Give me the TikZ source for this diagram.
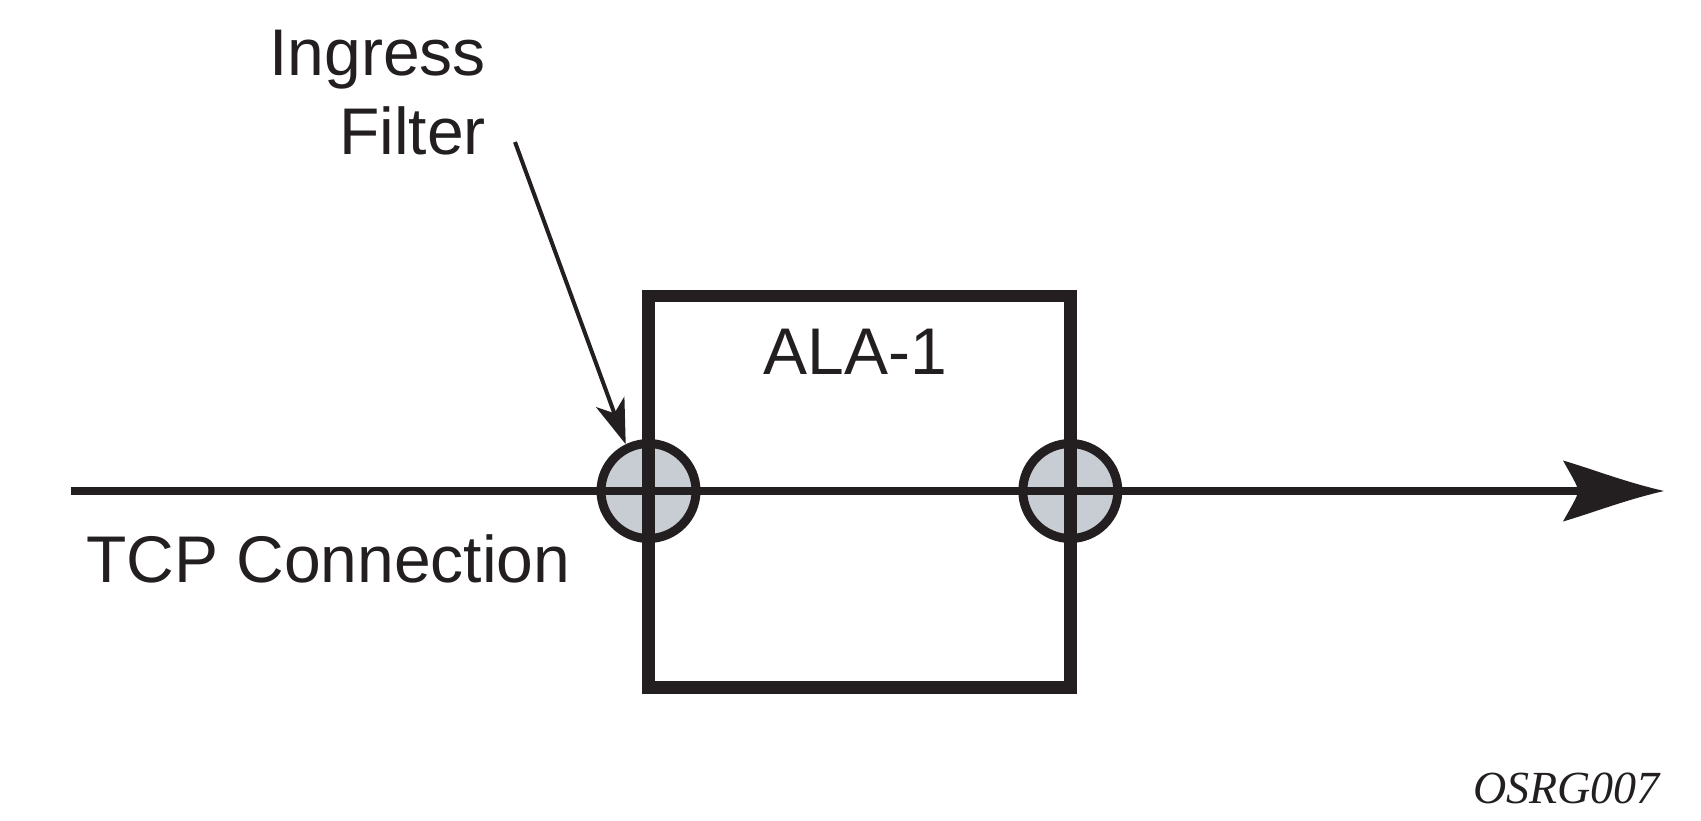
\documentclass[tikz,border=0pt]{standalone}
\usepackage{fontspec}
\setmainfont{Liberation Sans}
\newfontfamily\timesfont{Liberation Serif}
\usetikzlibrary{arrows.meta}
\definecolor{ink}{HTML}{231F20}
\definecolor{filtfill}{HTML}{C8CCD3}
\begin{document}
\begin{tikzpicture}[x=1pt,y=-1pt,
 lbl/.style={inner sep=0pt, text=ink, font=\fontsize{66}{79}\selectfont},
 codelbl/.style={inner sep=0pt, text=ink, font=\timesfont\itshape\fontsize{46}{50}\selectfont},
 alabox/.style={draw=ink, line width=12.5pt, minimum width=421.8pt, minimum height=391.3pt, inner sep=0pt},
 filt/.style={circle, draw=ink, fill=filtfill, line width=9pt, minimum size=95pt, inner sep=0pt},
 tcpline/.style={draw=ink, line width=8pt},
 ingline/.style={draw=ink, line width=4pt, -{Stealth[length=45pt,width=30pt,inset=12pt]}},
]
\useasboundingbox (0,0) rectangle (1701,821);
\node[filt] (fin) at (648.5,491) {};
\node[filt] (fout) at (1070.3,491) {};
\node[alabox] (ala) at (859.4,491.65) {};
\node[lbl, anchor=base] (alalbl) at (855,374) {ALA-1};
\coordinate (tcpstart) at (70.5,491);
\coordinate (tcptip) at (1664,491);
\draw[tcpline] (tcpstart) -- ([xshift=-74pt]tcptip);
\fill[ink, shift={(tcptip)}] (0,0) .. controls (-39,-9) and (-69,-21) .. (-101,-30.5)
  .. controls (-93,-16) and (-86,-5) .. (-86,0)
  .. controls (-86,5) and (-93,16) .. (-101,30.5)
  .. controls (-69,21) and (-39,9) .. (0,0) -- cycle;
\coordinate (ingstart) at (515,142);
\draw[ingline] (ingstart) -- (fin.116);
\node[lbl, anchor=base east, align=right] (ingr) at (486,155) {Ingress\\Filter};
\node[lbl, anchor=base west] (tcp) at (86,582.5) {TCP Connection};
\node[codelbl, anchor=base east] (code) at (1660,803) {OSRG007};
\end{tikzpicture}
\end{document}
